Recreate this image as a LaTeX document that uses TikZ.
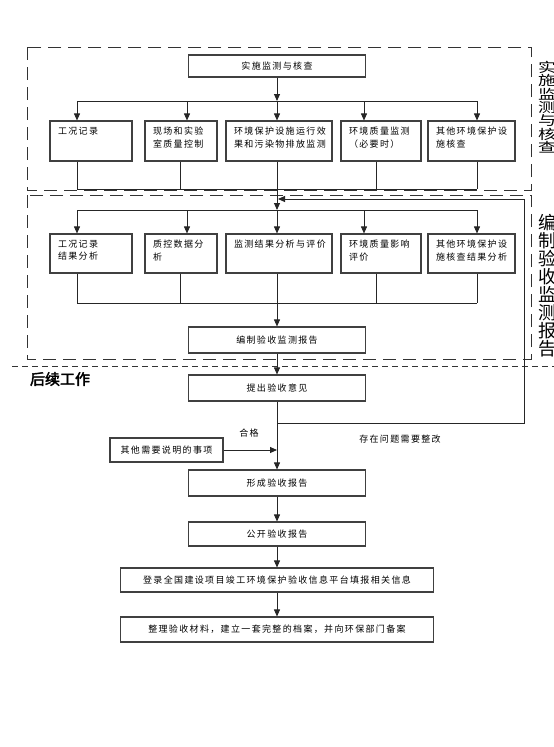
\documentclass[tikz,border=0pt]{standalone}
\usepackage{fontspec}
\usepackage{graphicx}
\setmainfont{Noto Sans CJK SC}[LetterSpace=15]
\newfontfamily\boldcjk{Noto Sans CJK SC}[FakeBold=2.5]
\newfontfamily\sidecjk{Noto Sans CJK SC}
\usetikzlibrary{arrows.meta,calc}
\newcommand{\tlbox}[3]{\begin{minipage}[c][#2][t]{#1}\fontsize{9}{12.5}\selectfont #3\end{minipage}}
\newcommand{\sidestack}[1]{\parbox[t]{20pt}{\raggedright\sidecjk\fontsize{18}{18}\selectfont\lineskiplimit=-30pt\lineskip=0pt #1}}
\tikzset{
  box/.style={draw=black!75, line width=1.1pt, inner sep=0pt, fill=white},
  rowbox/.style={box, inner xsep=8pt, inner ysep=6pt},
  cbox/.style={box, font=\fontsize{9}{11}\selectfont},
  conn/.style={draw=black!85, line width=0.9pt},
  arr/.style={conn, -{Triangle[length=7pt,width=6pt]}},
  dashbox/.style={draw=black!80, line width=0.9pt, dash pattern=on 13pt off 7pt},
  dashline/.style={draw=black!80, line width=0.9pt, dash pattern=on 6pt off 4pt},
  lbl/.style={inner sep=0pt, font=\fontsize{9}{11}\selectfont},
}
\begin{document}
\begin{tikzpicture}[x=1pt,y=-1pt]
\useasboundingbox (0,0) rectangle (554,747);
\fill[white] (0,0) rectangle (554,747);

% dashed frames
\draw[dashbox] (27,47) rectangle (531,190);
\draw[dashbox] (27,195) rectangle (531,359);
\draw[dashline] (12,366) -- (554,366);

% top box
\node[cbox, minimum width=177pt, minimum height=22pt] (T0) at (277,66) {实施监测与核查};

% row 1 boxes
\node[rowbox] (A1) at (91,141) {\tlbox{66pt}{28pt}{工况记录}};
\node[rowbox] (A2) at (181,141) {\tlbox{56pt}{28pt}{现场和实验\\室质量控制}};
\node[rowbox] (A3) at (279,141) {\tlbox{90pt}{28pt}{环境保护设施运行效\\果和污染物排放监测}};
\node[rowbox] (A4) at (381,141) {\tlbox{64pt}{28pt}{环境质量监测\\（必要时）}};
\node[rowbox] (A5) at (471.5,141) {\tlbox{71pt}{28pt}{其他环境保护设\\施核查}};

% row 2 boxes
\node[rowbox] (B1) at (91,253.5) {\tlbox{66pt}{27pt}{工况记录\\结果分析}};
\node[rowbox] (B2) at (181,253.5) {\tlbox{56pt}{27pt}{质控数据分\\析}};
\node[rowbox] (B3) at (279,253.5) {\tlbox{90pt}{27pt}{监测结果分析与评价}};
\node[rowbox] (B4) at (381,253.5) {\tlbox{64pt}{27pt}{环境质量影响\\评价}};
\node[rowbox] (B5) at (471.5,253.5) {\tlbox{71pt}{27pt}{其他环境保护设\\施核查结果分析}};

% lower boxes
\node[cbox, minimum width=177pt, minimum height=26pt] (C0) at (277,340) {编制验收监测报告};
\node[cbox, minimum width=177pt, minimum height=26pt] (C1) at (277,388) {提出验收意见};
\node[cbox, minimum width=113pt, minimum height=24pt] (S) at (166.5,450) {其他需要说明的事项};
\node[cbox, minimum width=177pt, minimum height=26pt] (C2) at (277,483) {形成验收报告};
\node[cbox, minimum width=177pt, minimum height=24pt] (C3) at (277,534) {公开验收报告};
\node[cbox, minimum width=313pt, minimum height=24pt] (C4) at (277,580) {登录全国建设项目竣工环境保护验收信息平台填报相关信息};
\node[cbox, minimum width=313pt, minimum height=25pt] (C5) at (277,629.5) {整理验收材料，建立一套完整的档案，并向环保部门备案};

% coordinates
\coordinate (dAc) at (277,101);
\coordinate (dA1) at (77,101);
\coordinate (dA2) at (187,101);
\coordinate (dA3) at (277,101);
\coordinate (dA4) at (364,101);
\coordinate (dA5) at (477,101);
\coordinate (jA1) at (77,189);
\coordinate (jA2) at (180,189);
\coordinate (jA3) at (277,189);
\coordinate (jA4) at (376,189);
\coordinate (jA5) at (477,189);
\coordinate (dB1) at (77,210);
\coordinate (dB2) at (187,210);
\coordinate (dB3) at (277,210);
\coordinate (dB4) at (364,210);
\coordinate (dB5) at (477,210);
\coordinate (jB1) at (77,303);
\coordinate (jB2) at (180,303);
\coordinate (jB3) at (277,303);
\coordinate (jB4) at (376,303);
\coordinate (jB5) at (477,303);
\coordinate (fb0) at (277,423);
\coordinate (fb1) at (524,423);
\coordinate (fb2) at (524,199);
\coordinate (fb3) at (278,199);

% row 1 connectors
\draw[arr] (T0.south) -- (dAc);
\draw[conn] (dA1) -- (dA5);
\draw[arr] (dA1) -- (dA1 |- A1.north);
\draw[arr] (dA2) -- (dA2 |- A2.north);
\draw[arr] (dA3) -- (dA3 |- A3.north);
\draw[arr] (dA4) -- (dA4 |- A4.north);
\draw[arr] (dA5) -- (dA5 |- A5.north);
\draw[conn] (A1.south -| jA1) -- (jA1);
\draw[conn] (A2.south -| jA2) -- (jA2);
\draw[conn] (A3.south -| jA3) -- (jA3);
\draw[conn] (A4.south -| jA4) -- (jA4);
\draw[conn] (A5.south -| jA5) -- (jA5);
\draw[conn] (jA1) -- (jA5);
\draw[arr] (jA3) -- (dB3);

% row 2 connectors
\draw[conn] (dB1) -- (dB5);
\draw[arr] (dB1) -- (dB1 |- B1.north);
\draw[arr] (dB2) -- (dB2 |- B2.north);
\draw[arr] (dB3) -- (dB3 |- B3.north);
\draw[arr] (dB4) -- (dB4 |- B4.north);
\draw[arr] (dB5) -- (dB5 |- B5.north);
\draw[conn] (B1.south -| jB1) -- (jB1);
\draw[conn] (B2.south -| jB2) -- (jB2);
\draw[conn] (B3.south -| jB3) -- (jB3);
\draw[conn] (B4.south -| jB4) -- (jB4);
\draw[conn] (B5.south -| jB5) -- (jB5);
\draw[conn] (jB1) -- (jB5);
\draw[arr] (jB3) -- (C0.north);

% lower chain
\draw[arr] (C0.south) -- (C1.north);
\draw[arr] (C1.south) -- (C2.north);
\draw[arr] (S.east) -- (S.east -| fb0);
\draw[arr] (fb0) -- (fb1) -- (fb2) -- (fb3);
\draw[arr] (C2.south) -- (C3.north);
\draw[arr] (C3.south) -- (C4.north);
\draw[arr] (C4.south) -- (C5.north);

% labels
\node[lbl] (ok) at (249,433) {合格};
\node[lbl] (fix) at (400,439) {存在问题需要整改};
\node[inner sep=0pt] (hx) at (60,379) {\boldcjk\fontsize{15}{15}\selectfont 后续工作};
\node[anchor=north west, inner sep=0pt] (L1) at (538,61) {\scalebox{1}[0.74]{\sidestack{实\\施\\监\\测\\与\\核\\查}}};
\node[anchor=north west, inner sep=0pt] (L2) at (538,214) {\sidestack{编\\制\\验\\收\\监\\测\\报\\告}};
\end{tikzpicture}
\end{document}
